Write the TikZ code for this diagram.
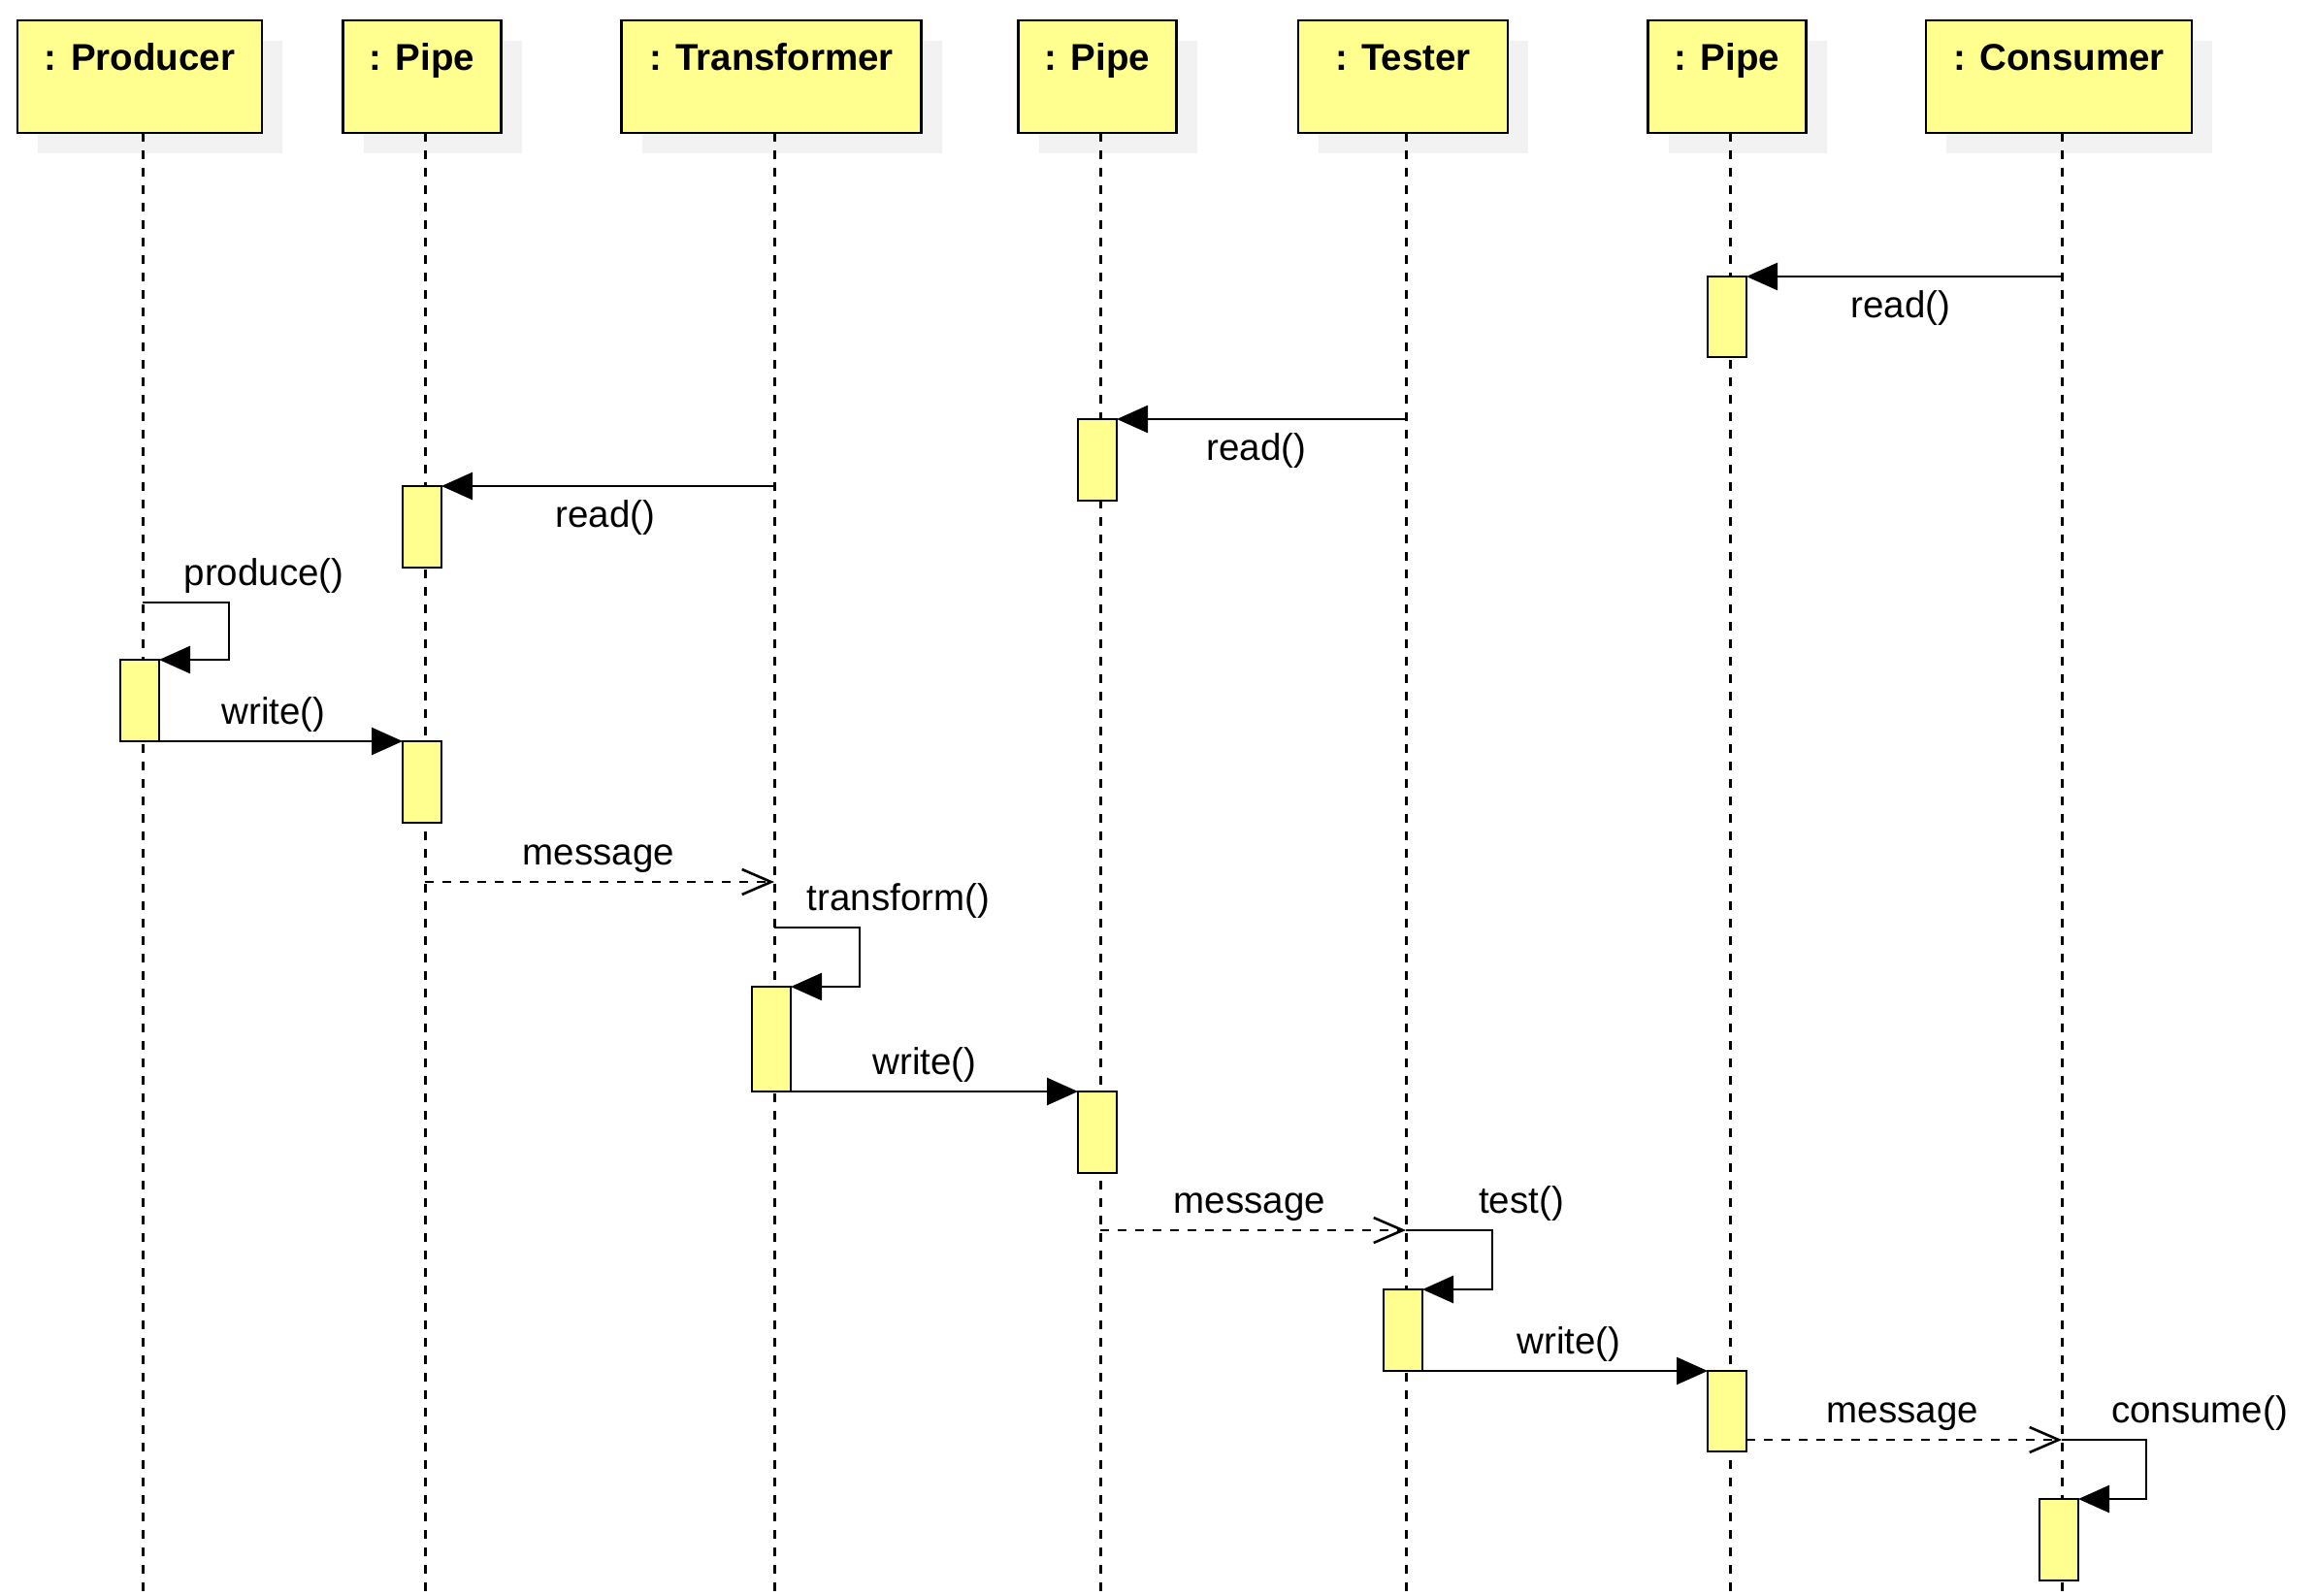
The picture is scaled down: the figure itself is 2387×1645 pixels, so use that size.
\documentclass[tikz,border=0pt]{standalone}
\usepackage{fontspec}
\setmainfont{Liberation Sans}
\usetikzlibrary{arrows.meta,shadows}
\definecolor{boxyellow}{HTML}{FFFF90}
\definecolor{shadowgray}{HTML}{F2F2F2}
\begin{document}
\begin{tikzpicture}[x=1pt,y=-1pt,
  every node/.style={font=\fontsize{38.5}{46}\selectfont},
  headbox/.style={draw,line width=2.8pt,fill=boxyellow,minimum height=116pt,inner sep=0pt,outer sep=0pt,
    drop shadow={shadow xshift=21pt,shadow yshift=-21pt,fill=shadowgray,opacity=1}},
  headtext/.style={font=\fontsize{38.5}{46}\selectfont\bfseries,anchor=base,inner sep=0pt},
  actbox/.style={draw,line width=2.8pt,fill=boxyellow,minimum width=40pt,inner sep=0pt,outer sep=0pt,anchor=north},
  lifeline/.style={line width=3pt,dash pattern=on 9pt off 9pt},
  call/.style={line width=2.6pt,-{Triangle[length=32pt,width=28pt]}},
  reply/.style={line width=2.6pt,dash pattern=on 9pt off 9pt,-{Straight Barb[length=30pt,width=26pt]}},
  selfcall/.style={line width=2.6pt,-{Triangle[length=32pt,width=28pt]}},
  lbl/.style={anchor=base,inner sep=0pt}]
\useasboundingbox (0,0) rectangle (2387,1645);
\fill[white] (0,0) rectangle (2387,1645);
% lifeline x positions
\coordinate (L1) at (147,0);
\coordinate (L2) at (438,0);
\coordinate (L3) at (798,0);
\coordinate (L4) at (1134,0);
\coordinate (L5) at (1449,0);
\coordinate (L6) at (1783,0);
\coordinate (L7) at (2125,0);
\coordinate (bottom) at (0,1645);
% heads
\node[headbox,minimum width=252pt] (h1) at (144,79) {};
\node[headbox,minimum width=163pt] (h2) at (435,79) {};
\node[headbox,minimum width=309pt] (h3) at (795,79) {};
\node[headbox,minimum width=163pt] (h4) at (1131,79) {};
\node[headbox,minimum width=216pt] (h5) at (1446,79) {};
\node[headbox,minimum width=163pt] (h6) at (1780,79) {};
\node[headbox,minimum width=274pt] (h7) at (2122,79) {};
\node[headtext] (t1) at (144,73) {: Producer};
\node[headtext] (t2) at (435,73) {: Pipe};
\node[headtext] (t3) at (795,73) {: Transformer};
\node[headtext] (t4) at (1131,73) {: Pipe};
\node[headtext] (t5) at (1446,73) {: Tester};
\node[headtext] (t6) at (1780,73) {: Pipe};
\node[headtext] (t7) at (2122,73) {: Consumer};
% lifelines
\foreach \i in {1,...,7}{
  \draw[lifeline] (L\i |- h\i.south) -- (L\i |- bottom);
}
% activation boxes
\node[actbox,minimum height=83pt] (a1) at (1780,285) {};
\node[actbox,minimum height=84pt] (a2) at (1131,432) {};
\node[actbox,minimum height=84pt] (a3) at (435,501) {};
\node[actbox,minimum height=84pt] (a4) at (144,680) {};
\node[actbox,minimum height=84pt] (a5) at (435,764) {};
\node[actbox,minimum height=108pt] (a6) at (795,1017) {};
\node[actbox,minimum height=84pt] (a7) at (1131,1125) {};
\node[actbox,minimum height=84pt] (a8) at (1446,1329) {};
\node[actbox,minimum height=83pt] (a9) at (1780,1413) {};
\node[actbox,minimum height=84pt] (a10) at (2122,1545) {};
% read() calls
\draw[call] (L7 |- a1.north east) -- (a1.north east);
\node[lbl] (r1) at (1959,327) {read()};
\draw[call] (L5 |- a2.north east) -- (a2.north east);
\node[lbl] (r2) at (1295,474) {read()};
\draw[call] (L3 |- a3.north east) -- (a3.north east);
\node[lbl] (r3) at (624,543) {read()};
% produce()
\coordinate (s1) at (147,621);
\coordinate (s1r) at (236,621);
\draw[selfcall] (s1) -- (s1r) |- (a4.north east);
\node[lbl] (pl) at (272,603) {produce()};
% write() producer -> pipe
\draw[call] (a4.south east) -- (a5.north west);
\node[lbl] (w1) at (282,746) {write()};
% message pipe -> transformer
\coordinate (m1) at (438,909);
\draw[reply] (m1) -- (L3 |- m1);
\node[lbl] (ms1) at (617,891) {message};
% transform()
\coordinate (s2) at (798,956);
\coordinate (s2r) at (886,956);
\draw[selfcall] (s2) -- (s2r) |- (a6.north east);
\node[lbl] (tl) at (926,938) {transform()};
% write() transformer -> pipe
\draw[call] (a6.south east) -- (a7.north west);
\node[lbl] (w2) at (953,1107) {write()};
% message pipe -> tester
\coordinate (m2) at (1134,1268);
\draw[reply] (m2) -- (L5 |- m2);
\node[lbl] (ms2) at (1288,1250) {message};
% test()
\coordinate (s3) at (1449,1268);
\coordinate (s3r) at (1538,1268);
\draw[selfcall] (s3) -- (s3r) |- (a8.north east);
\node[lbl] (tel) at (1568,1250) {test()};
% write() tester -> pipe
\draw[call] (a8.south east) -- (a9.north west);
\node[lbl] (w3) at (1617,1395) {write()};
% message pipe -> consumer
\coordinate (m3) at (1800,1484);
\draw[reply] (a9.east |- m3) -- (L7 |- m3);
\node[lbl] (ms3) at (1961,1466) {message};
% consume()
\coordinate (s4) at (2125,1484);
\coordinate (s4r) at (2212,1484);
\draw[selfcall] (s4) -- (s4r) |- (a10.north east);
\node[lbl] (cl) at (2267,1466) {consume()};
\end{tikzpicture}
\end{document}
